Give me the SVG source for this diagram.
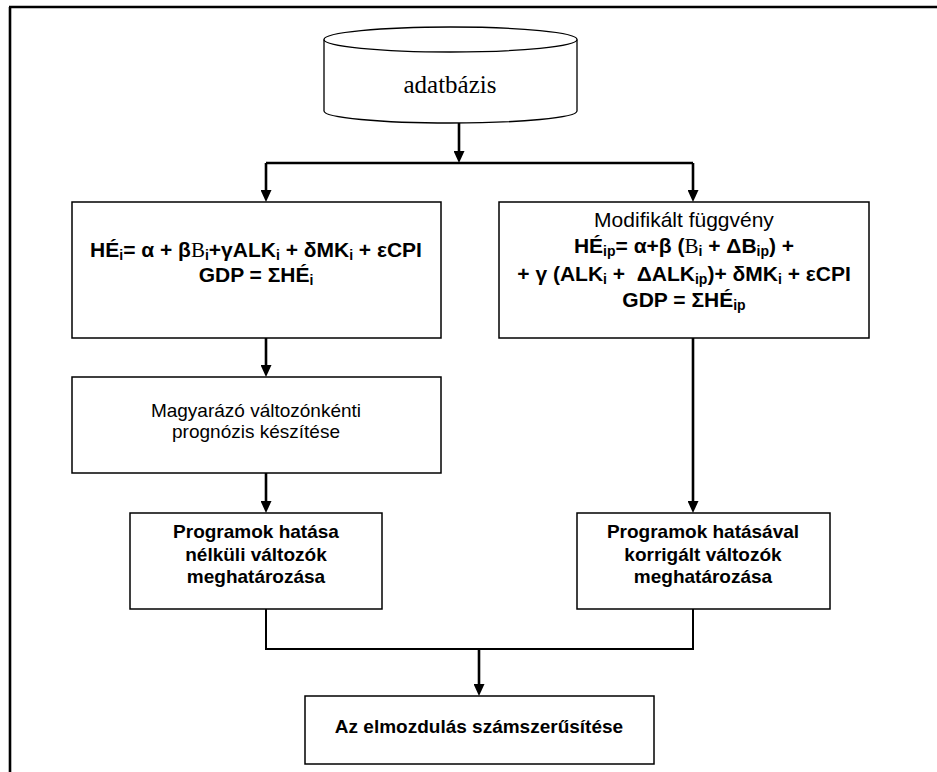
<svg xmlns="http://www.w3.org/2000/svg" width="937" height="772" viewBox="0 0 937 772">
<defs>
<style>
.box{fill:#fff;stroke:#000;stroke-width:1.5}
.cyl{fill:#fff;stroke:#000;stroke-width:1.3}
.con{stroke:#000;stroke-width:2.6;fill:none}
.thin{stroke:#000;stroke-width:2;fill:none}
text{font-family:"Liberation Sans",Arial,sans-serif;fill:#000;text-anchor:middle;white-space:pre}
.r{font-size:19px}
.r2{font-size:21px}
.b{font-size:19px;font-weight:bold}
.f{font-size:21px;font-weight:bold}
.s{font-size:14px}
.sr{font-family:"Liberation Serif","Times New Roman",serif;font-weight:normal}
.db{font-family:"Liberation Serif","Times New Roman",serif;font-size:25px}
</style>
<marker id="ah" markerUnits="userSpaceOnUse" markerWidth="12" markerHeight="11" refX="6" refY="5.5" orient="auto">
<path d="M0,0 L12,5.5 L0,11 z" fill="#000"/>
</marker>
</defs>
<rect width="937" height="772" fill="#fff"/>
<g id="frame">
<path d="M9,7 H937 M10,7 V772" stroke="#000" stroke-width="2.6" fill="none"/>
</g>
<g id="connectors">
<path class="con" d="M459,123 V157" marker-end="url(#ah)"/>
<path class="con" d="M266,163 H693"/>
<path class="con" d="M266,163 V196" marker-end="url(#ah)"/>
<path class="con" d="M693,163 V196" marker-end="url(#ah)"/>
<path class="con" d="M266,338 V371" marker-end="url(#ah)"/>
<path class="con" d="M266,473 V507" marker-end="url(#ah)"/>
<path class="con" d="M693,338 V507" marker-end="url(#ah)"/>
<path class="thin" d="M266,609 V649 H693 V609"/>
<path class="con" d="M479,649 V690" marker-end="url(#ah)"/>
</g>
<g id="adatbazis">
<path class="cyl" d="M324,39.5 V111 A126.5,12 0 0 0 577,111 V39.5"/>
<ellipse class="cyl" cx="450.5" cy="39.5" rx="126.5" ry="12.5"/>
<text class="db" x="450" y="93">adatbázis</text>
</g>
<g id="fuggveny">
<rect class="box" x="72" y="202" width="369" height="136"/>
<text class="f" x="256" y="257">HÉ<tspan class="s" dy="3">i</tspan><tspan dy="-3">= α + β</tspan><tspan class="sr">B</tspan><tspan class="s" dy="3">i</tspan><tspan dy="-3">+γALK</tspan><tspan class="s" dy="3">i</tspan><tspan dy="-3"> + δMK</tspan><tspan class="s" dy="3">i</tspan><tspan dy="-3"> + εCPI</tspan></text>
<text class="f" x="256" y="282">GDP = ΣHÉ<tspan class="s" dy="3">i</tspan></text>
</g>
<g id="modifikalt">
<rect class="box" x="499" y="202" width="370" height="136"/>
<text class="r2" x="684" y="227">Modifikált függvény</text>
<text class="f" x="684" y="253">HÉ<tspan class="s" dy="3">ip</tspan><tspan dy="-3">= α+β (</tspan><tspan class="sr">B</tspan><tspan class="s" dy="3">i</tspan><tspan dy="-3"> + ΔB</tspan><tspan class="s" dy="3">ip</tspan><tspan dy="-3">) +</tspan></text>
<text class="f" x="684" y="281">+ γ (ALK<tspan class="s" dy="3">i</tspan><tspan dy="-3"> +  ΔALK</tspan><tspan class="s" dy="3">ip</tspan><tspan dy="-3">)+ δMK</tspan><tspan class="s" dy="3">i</tspan><tspan dy="-3"> + εCPI</tspan></text>
<text class="f" x="684" y="307">GDP = ΣHÉ<tspan class="s" dy="3">ip</tspan></text>
</g>
<g id="prognozis">
<rect class="box" x="72" y="377" width="369" height="96"/>
<text class="r" x="256" y="417">Magyarázó változónkénti</text>
<text class="r" x="256" y="438">prognózis készítése</text>
</g>
<g id="nelkuli">
<rect class="box" x="130" y="513" width="252" height="96"/>
<text class="b" x="256" y="538">Programok hatása</text>
<text class="b" x="256" y="561">nélküli változók</text>
<text class="b" x="256" y="583">meghatározása</text>
</g>
<g id="korrigalt">
<rect class="box" x="577" y="513" width="253" height="96"/>
<text class="b" x="703" y="538">Programok hatásával</text>
<text class="b" x="703" y="561">korrigált változók</text>
<text class="b" x="703" y="583">meghatározása</text>
</g>
<g id="elmozdulas">
<rect class="box" x="305" y="696" width="349" height="68"/>
<text class="b" x="479" y="733">Az elmozdulás számszerűsítése</text>
</g>
</svg>
